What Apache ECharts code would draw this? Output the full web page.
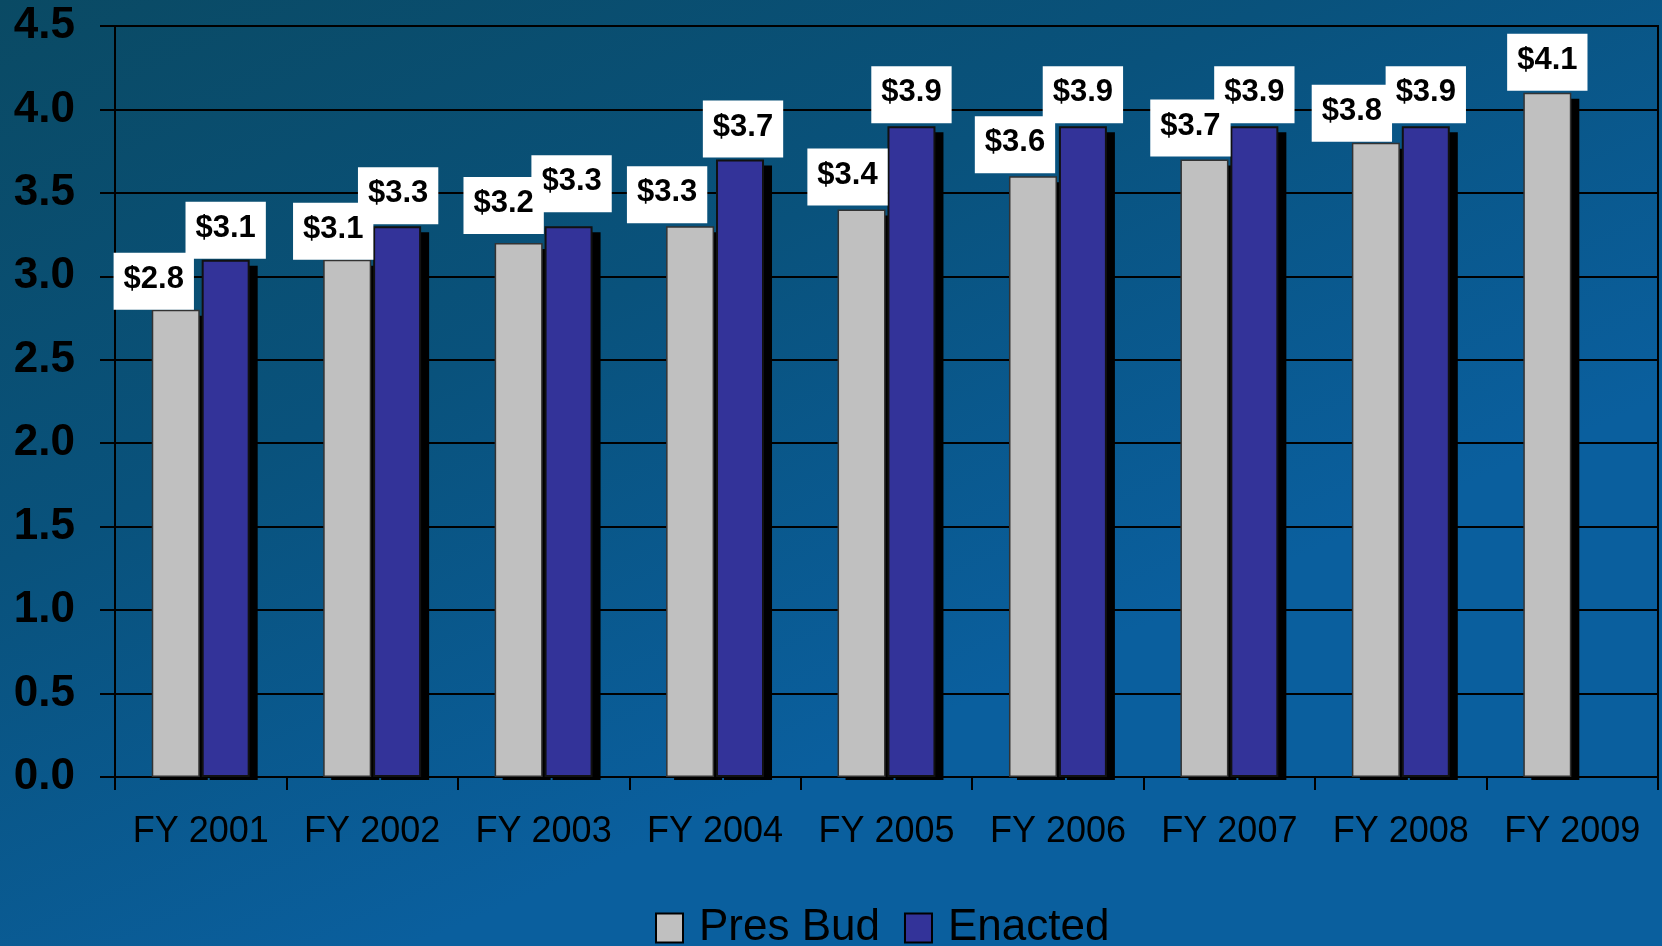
<!DOCTYPE html>
<html>
<head>
<meta charset="utf-8">
<script src="https://cdn.jsdelivr.net/npm/echarts@6/dist/echarts.min.js"></script>
<style>
  html, body { margin: 0; padding: 0; width: 1662px; height: 946px; overflow: hidden; }
  #chart { width: 1662px; height: 946px; }
</style>
</head>
<body>
<div id="chart"></div>
<script>
// ---- data ----
const categories = ['FY 2001', 'FY 2002', 'FY 2003', 'FY 2004', 'FY 2005', 'FY 2006', 'FY 2007', 'FY 2008', 'FY 2009'];
const presBud = [2.8, 3.1, 3.2, 3.3, 3.4, 3.6, 3.7, 3.8, 4.1];
const enacted = [3.1, 3.3, 3.3, 3.7, 3.9, 3.9, 3.9, 3.9, null];
const yMin = 0, yMax = 4.5, yStep = 0.5;

// ---- label placement nudges (style, not data) ----
const presLabelNudge = [[-22, 0], [-14, 0], [-15, -9], [-23, -3], [-14, -4], [-18, -3], [-14, -3], [-24, -1], [0, -2]];
const enactLabelNudge = [[0, -1], [1, -2], [3, -14], [3, -2], [0, -3], [0, -3], [0, -3], [0, -3], [0, 0]];

const FONT = "'Liberation Sans', Arial, Helvetica, sans-serif";
const BAR_W = 48;
const GAP_PCT = '4%';
const HALF_OFF = BAR_W / 2 + (BAR_W * 0.04) / 2; // center offset of each bar from category center

const labelBase = {
  show: true,
  position: 'top',
  distance: 0,
  formatter: p => '$' + Number(p.value).toFixed(1),
  color: '#000',
  fontWeight: 'bold',
  fontSize: 31,
  lineHeight: 31,
  fontFamily: FONT,
  backgroundColor: '#ffffff',
  padding: [11, 10, 15, 10]
};

function withNudges(values, nudges) {
  return values.map((v, i) => v == null ? null : ({ value: v, label: { offset: nudges[i] } }));
}

function shadowSeries(values, centerOffset) {
  return {
    type: 'custom',
    z: 1,
    silent: true,
    data: values.map((v, i) => [i, v]),
    renderItem: function (params, api) {
      const v = api.value(1);
      if (v == null || isNaN(v)) return null;
      const top = api.coord([api.value(0), v]);
      const base = api.coord([api.value(0), 0]);
      const x = top[0] + centerOffset - BAR_W / 2 + 8;
      const y = top[1] + 6;
      return {
        type: 'rect',
        shape: { x: x, y: y, width: BAR_W, height: base[1] + 3 - y },
        style: { fill: '#000' }
      };
    }
  };
}

const chart = echarts.init(document.getElementById('chart'));
chart.setOption({
  animation: false,
  backgroundColor: {
    type: 'linear', x: 0, y: 0, x2: 0.25, y2: 1,
    colorStops: [
      { offset: 0, color: '#0a4a64' },
      { offset: 0.5, color: '#09527c' },
      { offset: 1, color: '#0a5f9e' }
    ]
  },
  grid: {
    left: 115, right: 4, top: 26, bottom: 169,
    show: true, borderColor: '#000', borderWidth: 2, backgroundColor: 'transparent'
  },
  legend: {
    data: ['Pres Bud', 'Enacted'],
    left: 655, top: 906,
    padding: 0,
    itemWidth: 27, itemHeight: 29, itemGap: 24,
    icon: 'rect',
    itemStyle: { borderColor: '#000', borderWidth: 2 },
    textStyle: { color: '#000', fontSize: 44, fontFamily: FONT, padding: [0, 0, 0, 11] }
  },
  xAxis: {
    type: 'category',
    data: categories,
    axisLine: { show: true, lineStyle: { color: '#000', width: 2 } },
    axisTick: { show: true, length: 13, interval: 0, lineStyle: { color: '#000', width: 2 } },
    axisLabel: { color: '#000', fontSize: 36, fontFamily: FONT, margin: 37, interval: 0 },
    splitLine: { show: false }
  },
  yAxis: {
    type: 'value',
    min: yMin, max: yMax, interval: yStep,
    axisLine: { show: true, lineStyle: { color: '#000', width: 2 } },
    axisTick: { show: true, length: 15, lineStyle: { color: '#000', width: 2 } },
    axisLabel: {
      color: '#000', fontSize: 44, fontWeight: 'bold', fontFamily: FONT, margin: 40,
      formatter: v => v.toFixed(1)
    },
    splitLine: { show: true, lineStyle: { color: '#000', width: 2 } }
  },
  series: [
    shadowSeries(presBud, -HALF_OFF),
    shadowSeries(enacted, HALF_OFF),
    {
      name: 'Pres Bud',
      type: 'bar',
      z: 3,
      barWidth: BAR_W,
      barGap: GAP_PCT,
      data: withNudges(presBud, presLabelNudge),
      itemStyle: { color: '#c0c0c0', borderColor: '#333333', borderWidth: 1.5 },
      label: labelBase
    },
    {
      name: 'Enacted',
      type: 'bar',
      z: 2,
      barWidth: BAR_W,
      barGap: GAP_PCT,
      data: withNudges(enacted, enactLabelNudge),
      itemStyle: { color: '#333399', borderColor: '#111111', borderWidth: 2 },
      label: labelBase
    }
  ]
});
</script>
</body>
</html>
